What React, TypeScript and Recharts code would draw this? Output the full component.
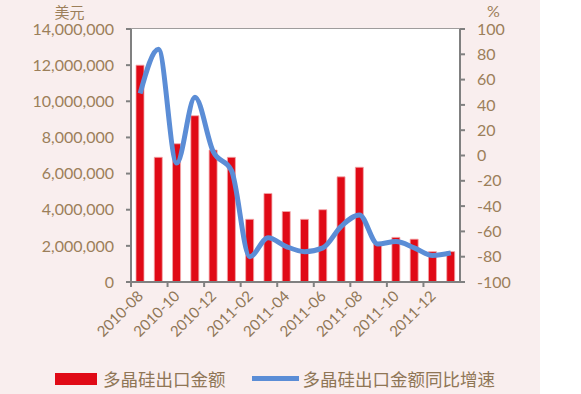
import { ComposedChart, Bar, Line, XAxis, YAxis, CartesianGrid, Legend } from 'recharts';

const months = [
  '2010-08', '2010-09', '2010-10', '2010-11', '2010-12', '2011-01',
  '2011-02', '2011-03', '2011-04', '2011-05', '2011-06', '2011-07',
  '2011-08', '2011-09', '2011-10', '2011-11', '2011-12', '2012-01',
];

// 多晶硅出口金额 (美元)
const exportValue = [
  12000000, 6900000, 7650000, 9200000, 7300000, 6900000,
  3470000, 4900000, 3900000, 3470000, 4000000, 5820000,
  6350000, 2100000, 2470000, 2370000, 1680000, 1680000,
];

// 多晶硅出口金额同比增速 (%)
const growthRate = [
  49, 84, -6, 46, 3, -12,
  -80, -65, -72, -76, -73, -56,
  -47, -70, -68, -73, -79, -77,
];

const leftTicks = [0, 2000000, 4000000, 6000000, 8000000, 10000000, 12000000, 14000000];
const rightTicks = [-100, -80, -60, -40, -20, 0, 20, 40, 60, 80, 100];

const data = months.map((m, i) => ({
  month: m,
  value: exportValue[i],
  rate: growthRate[i],
}));

const FONT = "Lato, 'Noto Sans CJK SC', sans-serif";
const CJK = "'Noto Sans CJK SC', sans-serif";
const TEXT = '#9c7f5a';
const AXIS = '#808080';
const RED = '#e00a16';
const BLUE = '#5b8dd6';

const MonthTick = (props: any) => {
  const { x, y, payload } = props;
  const off = payload.offset || 0;
  return (
    <g>
      <line x1={x - off} y1={y} x2={x - off} y2={y + 5} stroke={AXIS} strokeWidth={2} />
      <text
        x={x + 4}
        y={y + 15}
        textAnchor="end"
        fill="#8f7656"
        fontSize={15}
        fontFamily={FONT}
        transform={`rotate(-45, ${x + 4}, ${y + 15})`}
      >
        {payload.value}
      </text>
    </g>
  );
};

const LegendBox = () => (
  <div style={{ display: 'flex', alignItems: 'center', fontFamily: CJK, fontSize: 17.5, color: '#8f7656', paddingLeft: 55, paddingTop: 12 }}>
    <span style={{ display: 'inline-block', width: 42, height: 12, background: RED, marginRight: 6 }} />
    <span>多晶硅出口金额</span>
    <span style={{ display: 'inline-block', width: 47, height: 5, background: BLUE, marginLeft: 26, marginRight: 4 }} />
    <span>多晶硅出口金额同比增速</span>
  </div>
);

export default function App() {
  return (
    <div style={{ position: 'absolute', left: 0, top: 0, width: 581, height: 394, background: '#ffffff' }}>
      <div style={{ position: 'absolute', left: 0, top: 0, width: 540, height: 394, background: '#f9eeee' }} />
      <div style={{ position: 'absolute', left: 0, top: 0 }}>
        <ComposedChart width={581} height={394} data={data} margin={{ top: 29, right: 0, bottom: 0, left: 0 }}>
          <rect x={131} y={29} width={329} height={253} fill="#ffffff" />
          <CartesianGrid yAxisId="left" vertical={false} stroke={AXIS} strokeWidth={1.5} />
          <XAxis
            dataKey="month"
            height={72}
            interval={1}
            tickLine={false}
            tickSize={0}
            tickMargin={0}
            tick={<MonthTick />}
            axisLine={{ stroke: AXIS, strokeWidth: 2 }}
          />
          <YAxis
            yAxisId="left"
            width={131}
            domain={[0, 14000000]}
            ticks={leftTicks}
            tickFormatter={(v: number) => v.toLocaleString('en-US')}
            tick={{ fill: TEXT, fontSize: 16, fontFamily: FONT }}
            axisLine={{ stroke: AXIS, strokeWidth: 2 }}
            tickLine={{ stroke: AXIS, strokeWidth: 2 }}
            tickSize={5}
            tickMargin={12}
            label={{ value: '美元', position: 'top', offset: 11, dx: 4, fill: TEXT, fontSize: 15, fontFamily: CJK }}
          />
          <YAxis
            yAxisId="right"
            orientation="right"
            width={121}
            domain={[-100, 100]}
            ticks={rightTicks}
            tick={{ fill: TEXT, fontSize: 16, fontFamily: FONT, textAnchor: 'start' }}
            axisLine={{ stroke: AXIS, strokeWidth: 2 }}
            tickLine={{ stroke: AXIS, strokeWidth: 2 }}
            tickSize={5}
            tickMargin={12}
            label={{ value: '%', position: 'top', offset: 12, dx: -27, fill: TEXT, fontSize: 16, fontFamily: FONT }}
          />
          <Bar
            yAxisId="left"
            dataKey="value"
            name="多晶硅出口金额"
            fill={RED}
            stroke="#f2a8ab"
            strokeWidth={0.8}
            barSize={8}
            isAnimationActive={false}
          />
          <Line
            yAxisId="right"
            dataKey="rate"
            name="多晶硅出口金额同比增速"
            type="monotone"
            stroke={BLUE}
            strokeWidth={5}
            dot={false}
            activeDot={false}
            isAnimationActive={false}
          />
          <Legend verticalAlign="bottom" height={40} content={<LegendBox />} />
        </ComposedChart>
      </div>
    </div>
  );
}
